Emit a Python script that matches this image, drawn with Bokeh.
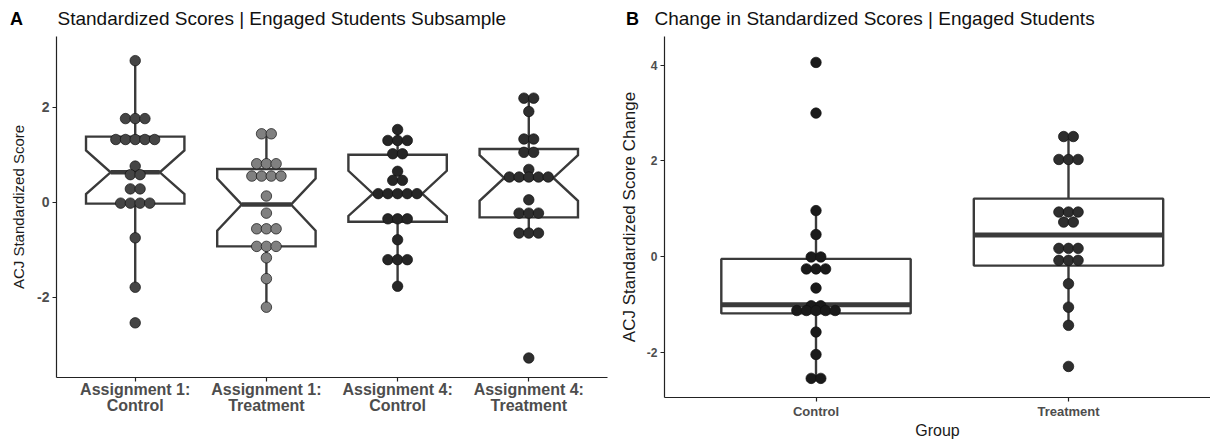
import numpy as np
from bokeh.plotting import figure
from bokeh.layouts import row
from bokeh.models import Range1d, FixedTicker, Label
from bokeh.embed import file_html
from bokeh.resources import INLINE

# ---------------- Panel A data ----------------
a_title = "Standardized Scores | Engaged Students Subsample"
a_labels = ["Assignment 1:\nControl", "Assignment 1:\nTreatment",
            "Assignment 4:\nControl", "Assignment 4:\nTreatment"]
a_yticks = [-2, 0, 2]
a_ytick_labels = ["-2", "0", "2"]
a1_control = [2.98, 1.76, 1.76, 1.76, 1.32, 1.32, 1.32, 1.32, 1.32, 0.76, 0.58, 0.58,
              0.28, 0.28, -0.02, -0.02, -0.02, -0.02, -0.75, -1.79, -2.54]
a1_treatment = [1.44, 1.44, 0.81, 0.81, 0.81, 0.55, 0.55, 0.55, 0.55, 0.13, -0.23,
                -0.56, -0.56, -0.56, -0.93, -0.93, -0.93, -1.17, -1.61, -2.21]
a4_control = [1.53, 1.30, 1.30, 1.30, 1.02, 1.02, 0.65, 0.46, 0.46, 0.18, 0.18, 0.18,
              0.18, 0.18, -0.35, -0.35, -0.35, -0.79, -1.21, -1.21, -1.21, -1.77]
a4_treatment = [2.19, 2.19, 1.91, 1.33, 1.33, 1.05, 1.05, 0.69, 0.53, 0.53, 0.53, 0.53,
                0.53, 0.05, -0.23, -0.23, -0.23, -0.65, -0.65, -0.65, -3.28]
a_values = [a1_control, a1_treatment, a4_control, a4_treatment]
a_q1 = [-0.03, -0.93, -0.41, -0.32]
a_median = [0.63, -0.05, 0.18, 0.51]
a_q3 = [1.38, 0.70, 1.00, 1.12]
a_notch_lo = [0.17, -0.60, -0.29, 0.03]
a_notch_hi = [1.09, 0.50, 0.66, 0.99]
a_whisk_lo = [-1.79, -2.21, -1.77, -0.65]
a_whisk_hi = [2.98, 1.44, 1.53, 2.19]
a_fill = ["#454545", "#808080", "#262626", "#2e2e2e"]

# ---------------- Panel B data ----------------
b_title = "Change in Standardized Scores | Engaged Students"
b_labels = ["Control", "Treatment"]
b_yticks = [-2, 0, 2, 4]
b_ytick_labels = ["-2", "0", "2", "4"]
b_control = [4.06, 3.00, 0.96, 0.46, -0.01, -0.01, -0.26, -0.26, -0.26, -0.66, -1.03,
             -1.03, -1.13, -1.13, -1.13, -1.13, -1.13, -1.58, -2.05, -2.55, -2.55]
b_treatment = [2.51, 2.51, 2.03, 2.03, 2.03, 0.93, 0.93, 0.93, 0.72, 0.72, 0.17, 0.17,
               0.17, -0.08, -0.08, -0.08, -0.57, -1.06, -1.44, -2.30]
b_values = [b_control, b_treatment]
b_q1 = [-1.19, -0.19]
b_median = [-1.01, 0.45]
b_q3 = [-0.05, 1.21]
b_whisk_lo = [-2.55, -1.44]
b_whisk_hi = [0.96, 2.51]
b_fill = ["#1a1a1a", "#2e2e2e"]

FONT = "Liberation Sans"
BOX_COL = "#3a3a3a"
TICK_COL = "#4d4d4d"
H = 439


def stack_offsets(values, step):
    counts = {}
    for v in values:
        counts[v] = counts.get(v, 0) + 1
    seen = {}
    offs = []
    for v in values:
        k = counts[v]
        i = seen.get(v, 0)
        seen[v] = i + 1
        offs.append((i - (k - 1) / 2) * step)
    return offs


def make_panel(W, axis_px_x, xppu, cat_start, zero_py, yppu, axis_py, top_py):
    """Figure whose frame is the whole canvas; axes are pinned at pixel positions."""
    x0 = cat_start - axis_px_x / xppu
    x1 = cat_start + (W - axis_px_x) / xppu
    y1 = zero_py / yppu
    y0 = (zero_py - H) / yppu
    p = figure(width=W, height=H, output_backend="svg", toolbar_location=None,
               x_range=Range1d(x0, x1), y_range=Range1d(y0, y1), title=None,
               min_border=0, frame_align=False)
    p.xgrid.visible = False
    p.ygrid.visible = False
    p.outline_line_color = None
    p.background_fill_color = "white"
    p.border_fill_color = "white"
    y_axis_val = (zero_py - axis_py) / yppu
    y_top_val = (zero_py - top_py) / yppu
    p.xaxis.fixed_location = y_axis_val
    p.yaxis.fixed_location = cat_start
    p.xaxis.bounds = (cat_start, x1)
    p.yaxis.bounds = (y_axis_val, y_top_val)
    for ax in (p.xaxis[0], p.yaxis[0]):
        ax.axis_line_color = "#222222"
        ax.axis_line_width = 1.2
        ax.major_tick_line_color = "#222222"
        ax.major_tick_line_width = 1.2
        ax.major_tick_out = 4
        ax.major_tick_in = 0
        ax.minor_tick_line_color = None
        ax.major_label_text_font = FONT
        ax.major_label_text_font_style = "bold"
        ax.major_label_text_color = TICK_COL
        ax.axis_label_text_font = FONT
        ax.axis_label_text_font_style = "normal"
        ax.axis_label_text_color = "#1a1a1a"
    return p


def add_title(p, letter, text, letter_x, text_x):
    p.add_layout(Label(x=letter_x, y=H - 18, x_units="screen", y_units="screen",
                       text=letter, text_font=FONT, text_font_style="bold",
                       text_font_size="18px", text_color="#000000",
                       text_align="center", text_baseline="middle"))
    p.add_layout(Label(x=text_x, y=H - 18, x_units="screen", y_units="screen",
                       text=text, text_font=FONT, text_font_style="normal",
                       text_font_size="19px", text_color="#111111",
                       text_align="left", text_baseline="middle"))


# ---------------- Figure A ----------------
A_W = 610
a_xppu = 551 / 4.2
pa = make_panel(A_W, 56, a_xppu, 0.4, 201.7, 47.5, 376.7, 36)
pa.xaxis.ticker = FixedTicker(ticks=[1, 2, 3, 4])
pa.xaxis.major_label_overrides = {t: l for t, l in zip([1, 2, 3, 4], a_labels)}
pa.xaxis.major_label_text_font_size = "16px"
pa.xaxis.major_label_text_line_height = 0.95
pa.xaxis.major_label_standoff = 0
pa.xaxis.bounds = (0.4, 4.6)
pa.yaxis.ticker = FixedTicker(ticks=a_yticks)
pa.yaxis.major_label_overrides = {t: l for t, l in zip(a_yticks, a_ytick_labels)}
pa.yaxis.major_label_text_font_size = "14px"
pa.yaxis.major_label_standoff = 3
pa.yaxis.axis_label = "ACJ Standardized Score"
pa.yaxis.axis_label_text_font_size = "15px"
pa.yaxis.axis_label_standoff = 7
add_title(pa, "A", a_title, 16, 57)

w = 0.375
nw = w * 0.5
xs, ys = [], []
for i in range(4):
    c = i + 1
    xs.append([c - w, c + w, c + w, c + nw, c + w, c + w, c - w, c - w, c - nw, c - w])
    ys.append([a_q3[i], a_q3[i], a_notch_hi[i], a_median[i], a_notch_lo[i], a_q1[i],
               a_q1[i], a_notch_lo[i], a_median[i], a_notch_hi[i]])
cx = [i + 1 for i in range(4)]
pa.segment(x0=cx, y0=a_q3, x1=cx, y1=a_whisk_hi, line_color=BOX_COL, line_width=2.4)
pa.segment(x0=cx, y0=a_q1, x1=cx, y1=a_whisk_lo, line_color=BOX_COL, line_width=2.4)
pa.patches(xs, ys, fill_color="white", fill_alpha=0.0, line_color=BOX_COL, line_width=2.4,
           line_join="miter")
pa.segment(x0=[c - nw for c in cx], y0=a_median, x1=[c + nw for c in cx], y1=a_median,
           line_color=BOX_COL, line_width=4.5)

a_step = 9.7 / a_xppu
for i, vals in enumerate(a_values):
    offs = stack_offsets(vals, a_step)
    pa.scatter([i + 1 + o for o in offs], vals, size=10.5, fill_color=a_fill[i],
               line_color="#111111", line_width=0.7)

# ---------------- Figure B ----------------
B_W = 600
b_xppu = 252.5
pb = make_panel(B_W, 54, b_xppu, 0.4, 256.0, 47.8, 397.0, 36)
pb.xaxis.ticker = FixedTicker(ticks=[1, 2])
pb.xaxis.major_label_overrides = {t: l for t, l in zip([1, 2], b_labels)}
pb.xaxis.major_label_text_font_size = "13px"
pb.xaxis.major_label_standoff = 2
pb.xaxis.axis_label = "Group"
pb.xaxis.axis_label_text_font_size = "16px"
pb.xaxis.axis_label_standoff = 0
pb.yaxis.ticker = FixedTicker(ticks=b_yticks)
pb.yaxis.major_label_overrides = {t: l for t, l in zip(b_yticks, b_ytick_labels)}
pb.yaxis.major_label_text_font_size = "12px"
pb.yaxis.major_label_standoff = 3
pb.yaxis.axis_label = "ACJ Standardized Score Change"
pb.yaxis.axis_label_text_font_size = "17px"
pb.yaxis.axis_label_standoff = 5
add_title(pb, "B", b_title, 22, 44)

cb = [1, 2]
pb.segment(x0=cb, y0=b_q3, x1=cb, y1=b_whisk_hi, line_color=BOX_COL, line_width=2.4)
pb.segment(x0=cb, y0=b_q1, x1=cb, y1=b_whisk_lo, line_color=BOX_COL, line_width=2.4)
pb.quad(left=[c - w for c in cb], right=[c + w for c in cb], bottom=b_q1, top=b_q3,
        fill_color="white", fill_alpha=0.0, line_color=BOX_COL, line_width=2.4)
pb.segment(x0=[c - w for c in cb], y0=b_median, x1=[c + w for c in cb], y1=b_median,
           line_color=BOX_COL, line_width=5)

b_step = 9.6 / b_xppu
for i, vals in enumerate(b_values):
    offs = stack_offsets(vals, b_step)
    pb.scatter([i + 1 + o for o in offs], vals, size=10.5, fill_color=b_fill[i],
               line_color="#111111", line_width=0.7)

layout = row(pa, pb, spacing=0)
open("out.html", "w").write(file_html(layout, INLINE))
